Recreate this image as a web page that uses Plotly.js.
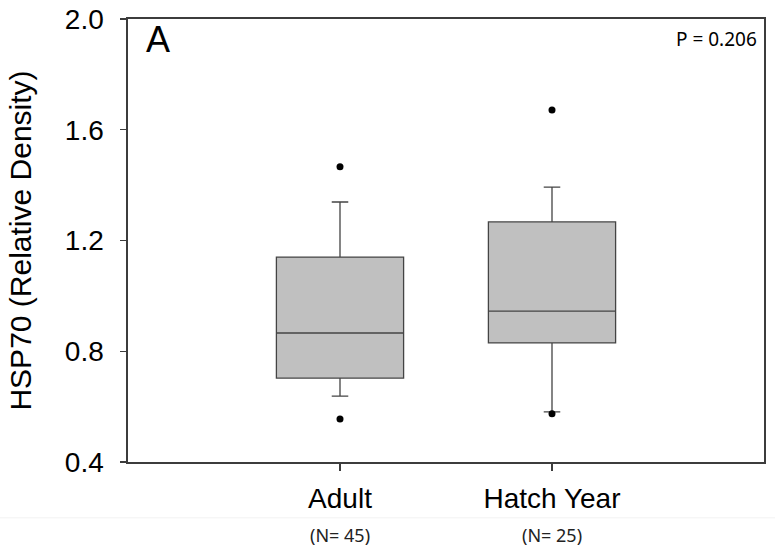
<!DOCTYPE html>
<html>
<head>
<meta charset="utf-8">
<script src="https://cdn.plot.ly/plotly-3.0.1.min.js"></script>
<style>html,body{margin:0;padding:0;background:#fff;}#chart{width:775px;height:554px;}</style>
</head>
<body>
<div id="chart"></div>
<script>
// Data
const groups = ["Adult", "Hatch Year"];
const sampleSizes = ["(N= 45)", "(N= 25)"];
const q1 = [0.703, 0.830];
const median = [0.866, 0.945];
const q3 = [1.140, 1.267];
const lowerFence = [0.638, 0.581];
const upperFence = [1.339, 1.393];
const outlierX = ["Adult", "Adult", "Hatch Year", "Hatch Year"];
const outlierY = [1.466, 0.555, 1.671, 0.574];
const yTicks = [0.4, 0.8, 1.2, 1.6, 2.0];
const yTickText = ["0.4", "0.8", "1.2", "1.6", "2.0"];
const pValueText = "P = 0.206";
const panelLabel = "A";
const yTitle = "HSP70 (Relative Density)";

const traces = [
  {
    type: "box",
    x: groups,
    q1: q1,
    median: median,
    q3: q3,
    lowerfence: lowerFence,
    upperfence: upperFence,
    boxpoints: false,
    width: 0.6,
    whiskerwidth: 0.13,
    fillcolor: "#c0c0c0",
    line: {color: "#444444", width: 1.3},
    hoverinfo: "skip",
    showlegend: false
  },
  {
    type: "scatter",
    mode: "markers",
    x: outlierX,
    y: outlierY,
    marker: {color: "#000000", size: 7},
    hoverinfo: "skip",
    showlegend: false
  }
];

const annotations = [
  {text: panelLabel, xref: "paper", yref: "paper", x: 0.025, y: 0.953, xanchor: "left", yanchor: "middle",
   showarrow: false, font: {family: "Arial, Liberation Sans", size: 36, color: "#000"}},
  {text: pValueText, xref: "paper", yref: "paper", x: 0.992, y: 0.955, xanchor: "right", yanchor: "middle",
   showarrow: false, font: {family: "Noto Sans", size: 19, color: "#000"}}
];
groups.forEach((g, i) => {
  annotations.push({text: sampleSizes[i], xref: "x", yref: "paper", x: g, y: -0.165, xanchor: "center", yanchor: "middle",
    showarrow: false, font: {family: "Noto Sans", size: 18, color: "#222"}});
});

const layout = {
  width: 775,
  height: 554,
  margin: {l: 128, r: 11, t: 19, b: 92},
  paper_bgcolor: "#ffffff",
  plot_bgcolor: "#ffffff",
  font: {family: "Arial, Liberation Sans", color: "#000"},
  xaxis: {
    type: "category",
    range: [-1, 2],
    showgrid: false,
    zeroline: false,
    showline: true,
    mirror: true,
    linecolor: "#3c3c3c",
    linewidth: 1.6,
    ticks: "outside",
    ticklen: 7,
    tickwidth: 1.3,
    tickcolor: "#3c3c3c",
    tickfont: {family: "Arial, Liberation Sans", size: 28, color: "#000"},
    ticklabelstandoff: 4
  },
  yaxis: {
    range: [0.4, 2.0],
    tickvals: yTicks,
    ticktext: yTickText,
    showgrid: false,
    zeroline: false,
    showline: true,
    mirror: true,
    linecolor: "#3c3c3c",
    linewidth: 1.6,
    ticks: "outside",
    ticklen: 6,
    tickwidth: 1.3,
    tickcolor: "#3c3c3c",
    tickfont: {family: "Arial, Liberation Sans", size: 28, color: "#000"},
    ticklabelstandoff: 11,
    title: {text: yTitle, font: {family: "Arial, Liberation Sans", size: 30, color: "#000"}, standoff: 24}
  },
  shapes: [
    {type: "line", xref: "paper", yref: "paper", x0: -0.21, x1: 1.02, y0: -0.126, y1: -0.126,
     line: {color: "#f2f2f2", width: 1}}
  ],
  annotations: annotations
};

Plotly.newPlot("chart", traces, layout, {displayModeBar: false, staticPlot: true});
</script>
</body>
</html>
